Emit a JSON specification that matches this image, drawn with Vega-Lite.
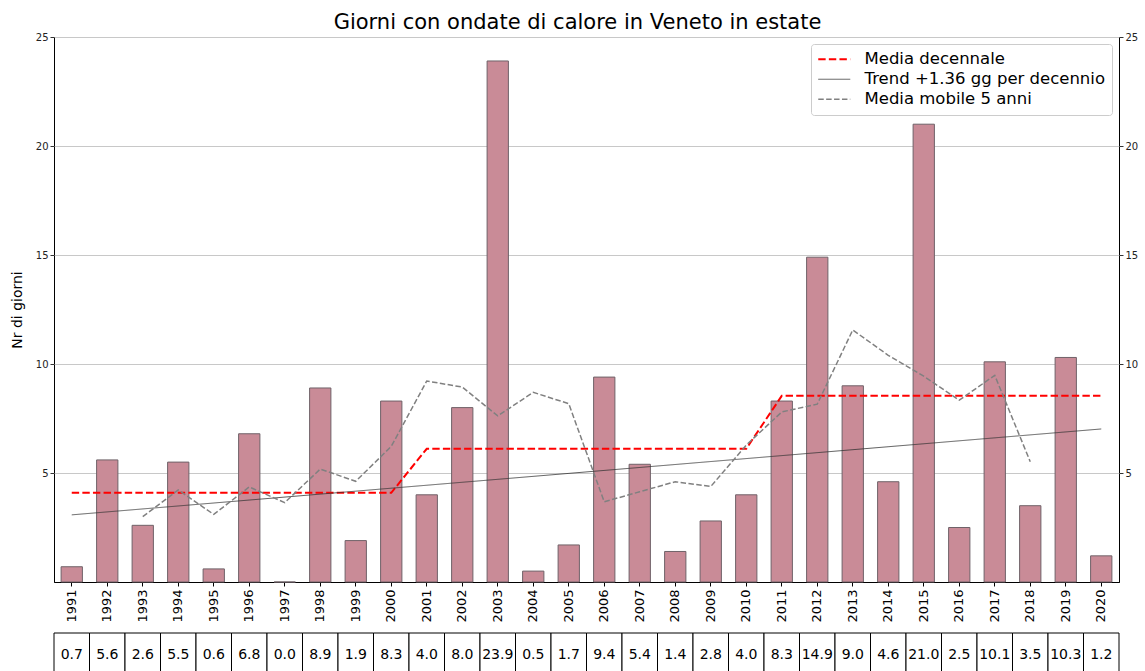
{
  "$schema": "https://vega.github.io/schema/vega-lite/v6.json",
  "padding": {"left": 9, "top": 11, "right": 0, "bottom": 0},
  "background": "white",
  "config": {
    "font": "DejaVu Sans",
    "view": {"stroke": null},
    "concat": {"spacing": 9},
    "axisLeft": {"titleFontSize": 14, "titleFontWeight": "normal"}
  },
  "datasets": {
    "bars": [
      {"anno": "1991", "giorni": 0.7}, {"anno": "1992", "giorni": 5.6}, {"anno": "1993", "giorni": 2.6},
      {"anno": "1994", "giorni": 5.5}, {"anno": "1995", "giorni": 0.6}, {"anno": "1996", "giorni": 6.8},
      {"anno": "1997", "giorni": 0.0}, {"anno": "1998", "giorni": 8.9}, {"anno": "1999", "giorni": 1.9},
      {"anno": "2000", "giorni": 8.3}, {"anno": "2001", "giorni": 4.0}, {"anno": "2002", "giorni": 8.0},
      {"anno": "2003", "giorni": 23.9}, {"anno": "2004", "giorni": 0.5}, {"anno": "2005", "giorni": 1.7},
      {"anno": "2006", "giorni": 9.4}, {"anno": "2007", "giorni": 5.4}, {"anno": "2008", "giorni": 1.4},
      {"anno": "2009", "giorni": 2.8}, {"anno": "2010", "giorni": 4.0}, {"anno": "2011", "giorni": 8.3},
      {"anno": "2012", "giorni": 14.9}, {"anno": "2013", "giorni": 9.0}, {"anno": "2014", "giorni": 4.6},
      {"anno": "2015", "giorni": 21.0}, {"anno": "2016", "giorni": 2.5}, {"anno": "2017", "giorni": 10.1},
      {"anno": "2018", "giorni": 3.5}, {"anno": "2019", "giorni": 10.3}, {"anno": "2020", "giorni": 1.2}
    ],
    "lines": [
      {"anno": "1991", "valore": 4.09, "serie": "Media decennale"},
      {"anno": "1992", "valore": 4.09, "serie": "Media decennale"},
      {"anno": "1993", "valore": 4.09, "serie": "Media decennale"},
      {"anno": "1994", "valore": 4.09, "serie": "Media decennale"},
      {"anno": "1995", "valore": 4.09, "serie": "Media decennale"},
      {"anno": "1996", "valore": 4.09, "serie": "Media decennale"},
      {"anno": "1997", "valore": 4.09, "serie": "Media decennale"},
      {"anno": "1998", "valore": 4.09, "serie": "Media decennale"},
      {"anno": "1999", "valore": 4.09, "serie": "Media decennale"},
      {"anno": "2000", "valore": 4.09, "serie": "Media decennale"},
      {"anno": "2001", "valore": 6.11, "serie": "Media decennale"},
      {"anno": "2002", "valore": 6.11, "serie": "Media decennale"},
      {"anno": "2003", "valore": 6.11, "serie": "Media decennale"},
      {"anno": "2004", "valore": 6.11, "serie": "Media decennale"},
      {"anno": "2005", "valore": 6.11, "serie": "Media decennale"},
      {"anno": "2006", "valore": 6.11, "serie": "Media decennale"},
      {"anno": "2007", "valore": 6.11, "serie": "Media decennale"},
      {"anno": "2008", "valore": 6.11, "serie": "Media decennale"},
      {"anno": "2009", "valore": 6.11, "serie": "Media decennale"},
      {"anno": "2010", "valore": 6.11, "serie": "Media decennale"},
      {"anno": "2011", "valore": 8.54, "serie": "Media decennale"},
      {"anno": "2012", "valore": 8.54, "serie": "Media decennale"},
      {"anno": "2013", "valore": 8.54, "serie": "Media decennale"},
      {"anno": "2014", "valore": 8.54, "serie": "Media decennale"},
      {"anno": "2015", "valore": 8.54, "serie": "Media decennale"},
      {"anno": "2016", "valore": 8.54, "serie": "Media decennale"},
      {"anno": "2017", "valore": 8.54, "serie": "Media decennale"},
      {"anno": "2018", "valore": 8.54, "serie": "Media decennale"},
      {"anno": "2019", "valore": 8.54, "serie": "Media decennale"},
      {"anno": "2020", "valore": 8.54, "serie": "Media decennale"},
      {"anno": "1991", "valore": 3.08, "serie": "Trend +1.36 gg per decennio"},
      {"anno": "2020", "valore": 7.02, "serie": "Trend +1.36 gg per decennio"},
      {"anno": "1993", "valore": 3.0, "serie": "Media mobile 5 anni"},
      {"anno": "1994", "valore": 4.22, "serie": "Media mobile 5 anni"},
      {"anno": "1995", "valore": 3.1, "serie": "Media mobile 5 anni"},
      {"anno": "1996", "valore": 4.36, "serie": "Media mobile 5 anni"},
      {"anno": "1997", "valore": 3.64, "serie": "Media mobile 5 anni"},
      {"anno": "1998", "valore": 5.18, "serie": "Media mobile 5 anni"},
      {"anno": "1999", "valore": 4.62, "serie": "Media mobile 5 anni"},
      {"anno": "2000", "valore": 6.22, "serie": "Media mobile 5 anni"},
      {"anno": "2001", "valore": 9.22, "serie": "Media mobile 5 anni"},
      {"anno": "2002", "valore": 8.94, "serie": "Media mobile 5 anni"},
      {"anno": "2003", "valore": 7.62, "serie": "Media mobile 5 anni"},
      {"anno": "2004", "valore": 8.7, "serie": "Media mobile 5 anni"},
      {"anno": "2005", "valore": 8.18, "serie": "Media mobile 5 anni"},
      {"anno": "2006", "valore": 3.68, "serie": "Media mobile 5 anni"},
      {"anno": "2007", "valore": 4.14, "serie": "Media mobile 5 anni"},
      {"anno": "2008", "valore": 4.6, "serie": "Media mobile 5 anni"},
      {"anno": "2009", "valore": 4.38, "serie": "Media mobile 5 anni"},
      {"anno": "2010", "valore": 6.28, "serie": "Media mobile 5 anni"},
      {"anno": "2011", "valore": 7.8, "serie": "Media mobile 5 anni"},
      {"anno": "2012", "valore": 8.16, "serie": "Media mobile 5 anni"},
      {"anno": "2013", "valore": 11.56, "serie": "Media mobile 5 anni"},
      {"anno": "2014", "valore": 10.4, "serie": "Media mobile 5 anni"},
      {"anno": "2015", "valore": 9.44, "serie": "Media mobile 5 anni"},
      {"anno": "2016", "valore": 8.34, "serie": "Media mobile 5 anni"},
      {"anno": "2017", "valore": 9.48, "serie": "Media mobile 5 anni"},
      {"anno": "2018", "valore": 5.52, "serie": "Media mobile 5 anni"}
    ]
  },
  "vconcat": [
    {
      "width": 1065,
      "height": 545,
      "title": {
        "text": "Giorni con ondate di calore in Veneto in estate",
        "fontSize": 21,
        "font": "DejaVu Sans",
        "fontWeight": "normal",
        "color": "black",
        "offset": -1,
        "dx": -9
      },
      "view": {"stroke": "black", "strokeWidth": 1},
      "resolve": {"axis": {"y": "independent"}},
      "layer": [
        {
          "data": {"name": "bars"},
          "mark": {"type": "bar", "fill": "#c98b97", "stroke": "#6f6268", "strokeWidth": 1},
          "encoding": {
            "x": {
              "field": "anno",
              "type": "ordinal",
              "scale": {"paddingInner": 0.4, "paddingOuter": 0.2},
              "axis": {
                "title": null,
                "labelAngle": -90,
                "labelFontSize": 13,
                "labelColor": "black",
                "labelPadding": 3,
                "tickSize": 4,
                "tickColor": "black",
                "domainColor": "black",
                "grid": false
              }
            },
            "y": {
              "field": "giorni",
              "type": "quantitative",
              "scale": {"domain": [0, 25], "nice": false},
              "axis": {
                "orient": "left",
                "values": [5, 10, 15, 20, 25],
                "grid": true,
                "gridColor": "#c8c8c8",
                "domain": false,
                "tickSize": 4,
                "tickColor": "#333333",
                "labelFontSize": 10,
                "labelColor": "#222222",
                "title": "Nr di giorni",
                "titleFont": "DejaVu Sans",
                "titleFontSize": 14,
                "titleFontWeight": "normal",
                "titleColor": "black",
                "titlePadding": 11
              }
            }
          }
        },
        {
          "data": {"name": "lines"},
          "transform": [{"filter": "datum.serie === 'Media decennale'"}],
          "mark": {"type": "line", "strokeWidth": 2},
          "encoding": {
            "x": {"field": "anno", "type": "ordinal", "bandPosition": 0.5},
            "y": {
              "field": "valore",
              "type": "quantitative",
              "axis": {
                "orient": "right",
                "values": [5, 10, 15, 20, 25],
                "grid": false,
                "domain": false,
                "tickSize": 4,
                "tickColor": "#333333",
                "labelFontSize": 10,
                "labelColor": "#222222",
                "title": null
              }
            },
            "color": {
              "field": "serie",
              "type": "nominal",
              "scale": {
                "domain": ["Media decennale", "Trend +1.36 gg per decennio", "Media mobile 5 anni"],
                "range": ["#ff0000", "#333333", "#808080"]
              },
              "legend": {
                "title": null,
                "orient": "top-right",
                "offset": 7,
                "padding": 7,
                "strokeColor": "#cccccc",
                "fillColor": "white",
                "cornerRadius": 3,
                "labelFontSize": 16.5,
                "labelFont": "DejaVu Sans",
                "labelColor": "black",
                "labelLimit": 0,
                "symbolType": "M-2,0H2",
                "symbolSize": 256,
                "symbolOffset": 8,
                "labelOffset": 22,
                "rowPadding": 3,
                "encode": {
                  "symbols": {
                    "update": {
                      "strokeWidth": {"signal": "datum.value === 'Media decennale' ? 2 : datum.value === 'Media mobile 5 anni' ? 1.5 : 0.8"}
                    }
                  }
                }
              }
            },
            "strokeDash": {
              "field": "serie",
              "type": "nominal",
              "scale": {
                "domain": ["Media decennale", "Trend +1.36 gg per decennio", "Media mobile 5 anni"],
                "range": [[7.4, 3.2], [1, 0], [5.5, 2.4]]
              },
              "legend": {"title": null}
            }
          }
        },
        {
          "data": {"name": "lines"},
          "transform": [{"filter": "datum.serie === 'Trend +1.36 gg per decennio'"}],
          "mark": {"type": "line", "strokeWidth": 0.8},
          "encoding": {
            "x": {"field": "anno", "type": "ordinal", "bandPosition": 0.5},
            "y": {"field": "valore", "type": "quantitative", "axis": null},
            "color": {"field": "serie", "type": "nominal"},
            "strokeDash": {"field": "serie", "type": "nominal"}
          }
        },
        {
          "data": {"name": "lines"},
          "transform": [{"filter": "datum.serie === 'Media mobile 5 anni'"}],
          "mark": {"type": "line", "strokeWidth": 1.5},
          "encoding": {
            "x": {"field": "anno", "type": "ordinal", "bandPosition": 0.5},
            "y": {"field": "valore", "type": "quantitative", "axis": null},
            "color": {"field": "serie", "type": "nominal"},
            "strokeDash": {"field": "serie", "type": "nominal"}
          }
        }
      ]
    },
    {
      "width": 1065,
      "height": 44,
      "data": {"name": "bars"},
      "layer": [
        {
          "mark": {"type": "rect", "fill": "white", "stroke": "black", "strokeWidth": 1},
          "encoding": {
            "x": {"field": "anno", "type": "ordinal", "scale": {"paddingInner": 0, "paddingOuter": 0}, "axis": null}
          }
        },
        {
          "mark": {"type": "text", "fontSize": 14, "font": "DejaVu Sans", "color": "black", "baseline": "middle"},
          "encoding": {
            "x": {"field": "anno", "type": "ordinal", "axis": null},
            "text": {"field": "giorni", "type": "quantitative", "format": ".1f"}
          }
        }
      ]
    }
  ]
}
